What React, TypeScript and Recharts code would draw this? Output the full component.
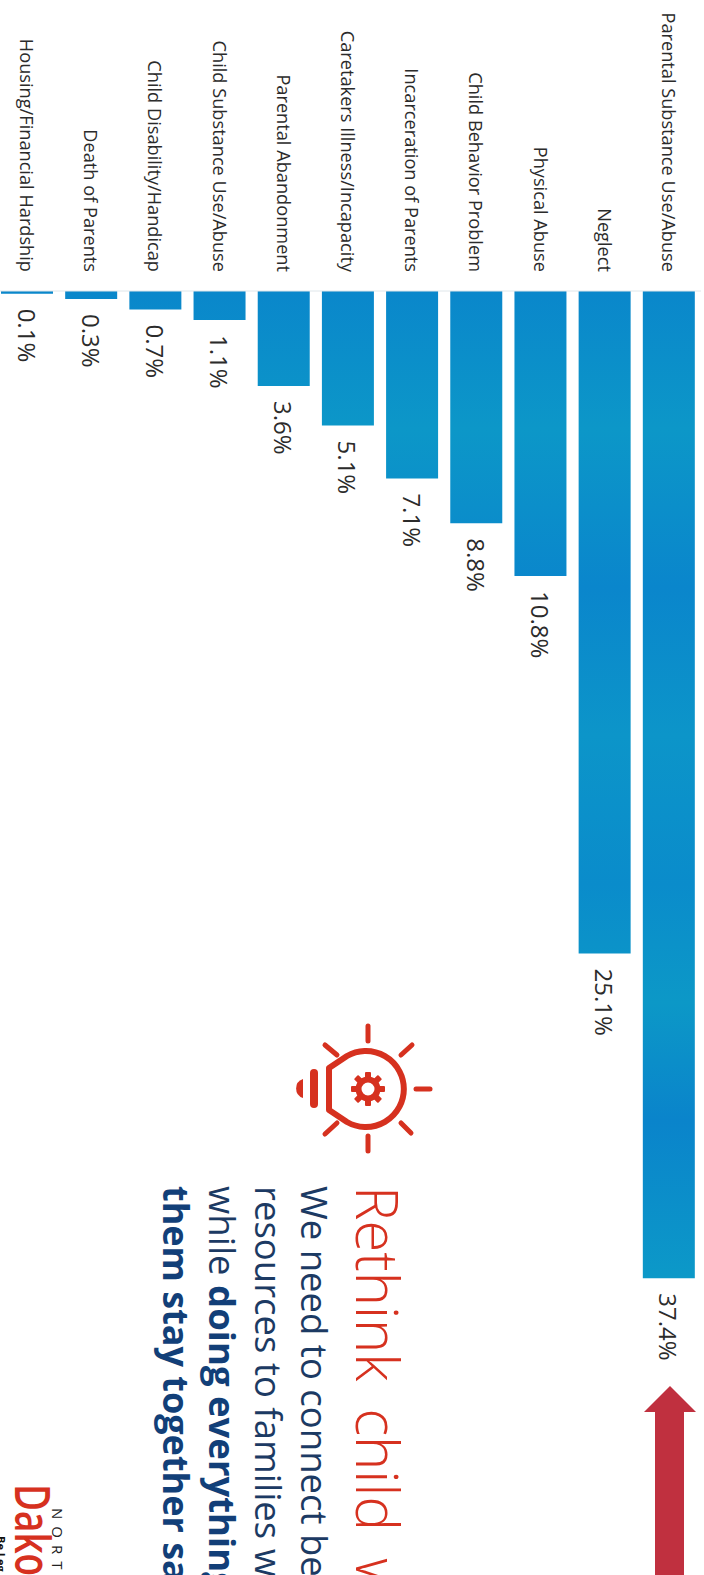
import { Bar, BarChart, LabelList, XAxis, YAxis } from 'recharts'

const categories = [
  'Parental Substance Use/Abuse',
  'Neglect',
  'Physical Abuse',
  'Child Behavior Problem',
  'Incarceration of Parents',
  'Caretakers Illness/Incapacity',
  'Parental Abandonment',
  'Child Substance Use/Abuse',
  'Child Disability/Handicap',
  'Death of Parents',
  'Housing/Financial Hardship',
]
const shares = [37.4, 25.1, 10.8, 8.8, 7.1, 5.1, 3.6, 1.1, 0.7, 0.3, 0.1]

const chartData = categories.map((category, i) => ({ category, share: shares[i] }))

const barShades = [
  ['0%', '#0a87cb'],
  ['14%', '#0c97c8'],
  ['30%', '#0a86cc'],
  ['45%', '#0c95c9'],
  ['60%', '#0a8ccb'],
  ['72%', '#0c98c7'],
  ['84%', '#0a84cb'],
  ['100%', '#0c99c8'],
]

const fontFamily = '"Open Sans", "Noto Sans", sans-serif'
const red = '#d6311f'
const navy = '#1c3a63'
const rays = [
  [366, 1024, 366, 1039],
  [366, 1134, 366, 1149],
  [414, 1087, 428, 1087],
  [399, 1053, 410, 1043],
  [323, 1043, 335, 1053],
  [323, 1132, 335, 1121],
  [399, 1121, 409, 1131],
]
const gearTeeth = [0, 45, 90, 135, 180, 225, 270, 315]

function CategoryTick({ x, payload }: any) {
  return (
    <text
      x={x}
      y={272}
      transform={`rotate(90 ${x} 272)`}
      textAnchor="end"
      dominantBaseline="central"
      fontFamily={fontFamily}
      fontSize={18.2}
      fill="#2b2b2b"
    >
      {payload.value}
    </text>
  )
}

function ShareLabel({ x, y, width, height, value }: any) {
  const cx = x + width / 2
  const end = Math.max(y, y + height) + 15
  return (
    <text
      x={cx}
      y={end}
      transform={`rotate(90 ${cx} ${end})`}
      dominantBaseline="central"
      fontFamily={fontFamily}
      fontSize={24}
      fill="#2b2b2b"
    >
      {value}%
    </text>
  )
}

function Rotated({ x, y, size, fill, weight, spacing, wordSpacing, length, children }: any) {
  return (
    <text
      x={x}
      y={y}
      transform={`rotate(90 ${x} ${y})`}
      fontFamily={fontFamily}
      fontSize={size}
      fill={fill}
      fontWeight={weight}
      letterSpacing={spacing}
      wordSpacing={wordSpacing}
      textLength={length}
      lengthAdjust={length ? 'spacingAndGlyphs' : undefined}
    >
      {children}
    </text>
  )
}

function Annotations() {
  return (
    <svg
      width={704}
      height={1575}
      style={{ position: 'absolute', left: 0, top: 0, pointerEvents: 'none' }}
    >
      {/* up arrow next to the longest bar */}
      <path
        d="M670 1386 L696 1412 L684 1412 L684 1575 L655 1575 L655 1412 L644 1412 Z"
        fill="#c0303f"
      />

      {/* lightbulb icon */}
      <g transform="translate(2 2)">
        <g stroke={red} fill="none" strokeLinecap="round">
          {rays.map(([x1, y1, x2, y2]) => (
            <line key={`${x1}-${y1}`} x1={x1} y1={y1} x2={x2} y2={y2} strokeWidth={5} />
          ))}
          <path
            d="M327 1066 L345 1054 A38 38 0 1 1 345 1120 L327 1108 Z"
            strokeWidth={6}
            strokeLinejoin="round"
          />
          <line x1={312} y1={1071} x2={312} y2={1102} strokeWidth={8} />
        </g>
        <path d="M301 1077 A10 10 0 0 0 301 1096 Z" fill={red} />
        <g fill={red}>
          {gearTeeth.map((angle) => (
            <rect
              key={angle}
              x={363}
              y={1070}
              width={6}
              height={8}
              rx={1}
              transform={`rotate(${angle} 366 1087)`}
            />
          ))}
        </g>
        <circle cx={366} cy={1087} r={9.5} fill="none" stroke={red} strokeWidth={6} />
      </g>

      {/* text block, cut by the edge of the page */}
      <Rotated x={356} y={1186} size={58} fill={red} weight={300} wordSpacing={12}>
        Rethink child w
      </Rotated>
      <Rotated x={301} y={1186} size={36.5} fill={navy}>
        We need to connect be
      </Rotated>
      <Rotated x={255} y={1186} size={36.5} fill={navy}>
        resources to families wh
      </Rotated>
      <Rotated x={209} y={1186} size={36.5} fill={navy}>
        while <tspan fontWeight={700} fill="#123f78">doing everything</tspan>
      </Rotated>
      <Rotated x={163} y={1186} size={36} fill="#123f78" weight={700}>
        them stay together sa
      </Rotated>

      {/* logo */}
      <Rotated x={52} y={1508} size={15} fill="#222" spacing={7}>
        NORT
      </Rotated>
      <Rotated x={15} y={1484} size={48} fill={red} weight={600} length={92}>
        Dako
      </Rotated>
      <Rotated x={-3} y={1536} size={11} fill="#111" weight={700}>
        Be Leg
      </Rotated>
    </svg>
  )
}

export default function App() {
  return (
    <div
      style={{
        position: 'absolute',
        left: 0,
        top: 0,
        width: 704,
        height: 1575,
        overflow: 'hidden',
        background: '#fff',
      }}
    >
      <div style={{ position: 'absolute', left: -5, top: 0 }}>
        <BarChart
          width={706}
          height={1575}
          data={chartData}
          margin={{ top: 261, right: 0, bottom: 17, left: 0 }}
          barCategoryGap={6}
        >
          <defs>
            <linearGradient id="barFill" gradientUnits="userSpaceOnUse" x1={0} y1={291} x2={0} y2={1279}>
              {barShades.map(([offset, color]) => (
                <stop key={offset} offset={offset} stopColor={color} />
              ))}
            </linearGradient>
          </defs>
          <XAxis
            dataKey="category"
            orientation="top"
            reversed
            height={30}
            interval={0}
            tickLine={false}
            axisLine={{ stroke: '#dfe6ea' }}
            tick={CategoryTick}
          />
          <YAxis hide reversed type="number" domain={[0, 48]} />
          <Bar dataKey="share" fill="url(#barFill)" isAnimationActive={false}>
            <LabelList dataKey="share" content={ShareLabel} />
          </Bar>
        </BarChart>
      </div>
      <Annotations />
    </div>
  )
}
